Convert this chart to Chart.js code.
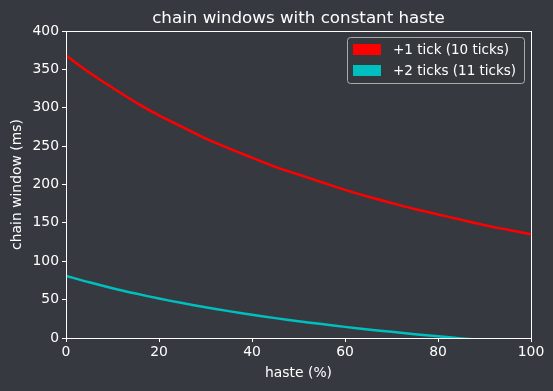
<!DOCTYPE html>
<html>
<head>
<meta charset="utf-8">
<script src="https://cdn.jsdelivr.net/npm/chart.js@4/dist/chart.umd.min.js"></script>
<style>
  html, body { margin: 0; padding: 0; background: #36393f; }
  #wrap { width: 553px; height: 391px; }
</style>
</head>
<body>
<div id="wrap"><canvas id="chart" width="553" height="391"></canvas></div>
<script>
// haste in %, chain windows in ms
const haste = [0, 5, 10, 15, 20, 25, 30, 35, 40, 45, 50, 55, 60, 65, 70, 75, 80, 85, 90, 95, 100];
const oneTick = [368, 346, 326, 307, 290, 275, 260, 247, 235, 223, 213, 203, 193, 184, 176, 168, 161, 154, 147, 141, 135];
const twoTicks = [81, 72.6, 64.9, 57.9, 51.4, 45.5, 40.1, 35, 30.3, 25.9, 21.9, 18.1, 14.5, 11.1, 8, 5, 2.2, -0.5, -3, -5.4, -7.7];
const seriesNames = ['+1 tick (10 ticks)', '+2 ticks (11 ticks)'];
const seriesColors = ['#ff0000', '#00bfbf'];
const xTicks = [0, 20, 40, 60, 80, 100];
const yTicks = [0, 50, 100, 150, 200, 250, 300, 350, 400];

const FONT = 'DejaVu Sans';
const FG = '#ffffff';

function toPoints(ys) {
    return haste.map((h, i) => ({ x: h, y: ys[i] }));
}

// titre + cadre complet + légende façon matplotlib
const framePlugin = {
    id: 'frame',
    afterDraw(chart) {
        const ctx = chart.ctx;
        const a = chart.chartArea;
        ctx.save();
        // cadre
        ctx.strokeStyle = FG;
        ctx.lineWidth = 1;
        ctx.strokeRect(Math.round(a.left) + 0.5, Math.round(a.top) + 0.5,
            Math.round(a.right - a.left), Math.round(a.bottom - a.top));
        // titre
        ctx.fillStyle = FG;
        ctx.font = '16.7px "' + FONT + '"';
        ctx.textAlign = 'center';
        ctx.textBaseline = 'alphabetic';
        ctx.fillText('chain windows with constant haste', (a.left + a.right) / 2, a.top - 8);
        // légende
        const w = 177, h = 46;
        const lx = a.right - 7 - w, ly = a.top + 6;
        ctx.fillStyle = 'rgba(54,57,63,0.8)';
        ctx.strokeStyle = 'rgba(200,200,200,0.8)';
        ctx.beginPath();
        ctx.roundRect(lx + 0.5, ly + 0.5, w, h, 3);
        ctx.fill();
        ctx.stroke();
        ctx.font = '13.5px "' + FONT + '"';
        ctx.textAlign = 'left';
        ctx.textBaseline = 'middle';
        chart.data.datasets.forEach((ds, i) => {
            const cy = ly + 12 + i * 21;
            ctx.fillStyle = ds.borderColor;
            ctx.fillRect(lx + 6, cy - 5, 28, 11);
            ctx.fillStyle = FG;
            ctx.fillText(ds.label, lx + 46, cy + 1);
        });
        ctx.restore();
    }
};

new Chart(document.getElementById('chart'), {
    type: 'line',
    data: {
        datasets: [
            { label: seriesNames[0], data: toPoints(oneTick), borderColor: seriesColors[0] },
            { label: seriesNames[1], data: toPoints(twoTicks), borderColor: seriesColors[1] }
        ]
    },
    options: {
        responsive: false,
        animation: false,
        layout: { padding: { top: 31, right: 22, left: 0, bottom: 0 } },
        elements: {
            line: { borderWidth: 2.5, tension: 0.3, fill: false },
            point: { radius: 0 }
        },
        plugins: {
            legend: { display: false },
            title: { display: false },
            tooltip: { enabled: false }
        },
        scales: {
            x: {
                type: 'linear',
                min: 0, max: 100,
                afterBuildTicks: s => { s.ticks = xTicks.map(v => ({ value: v })); },
                afterFit: s => { s.height = 53; },
                ticks: { color: FG, font: { family: FONT, size: 13.9 }, padding: 2, maxRotation: 0 },
                grid: { drawOnChartArea: false, drawTicks: true, tickLength: 4, color: FG },
                border: { color: FG },
                title: { display: true, text: 'haste (%)', color: FG, font: { family: FONT, size: 13.9 }, padding: { top: 0, bottom: 9 } }
            },
            y: {
                min: 0, max: 400,
                afterBuildTicks: s => { s.ticks = yTicks.map(v => ({ value: v })); },
                afterFit: s => { s.width = 66; },
                ticks: { color: FG, font: { family: FONT, size: 13.9 }, padding: 3 },
                grid: { drawOnChartArea: false, drawTicks: true, tickLength: 4, color: FG },
                border: { color: FG },
                title: { display: true, text: 'chain window (ms)', color: FG, font: { family: FONT, size: 13.9 }, padding: { top: 9, bottom: 0 } }
            }
        }
    },
    plugins: [framePlugin]
});
</script>
</body>
</html>
